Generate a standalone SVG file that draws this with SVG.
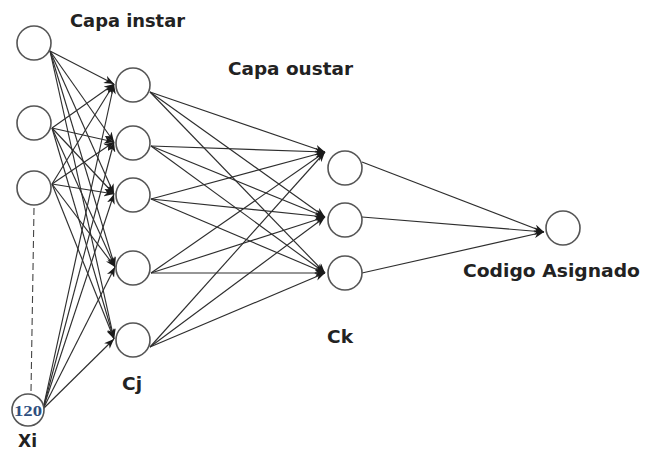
<svg xmlns="http://www.w3.org/2000/svg" width="650" height="451" viewBox="0 0 650 451">
  <style>
    .node { fill: #ffffff; stroke: #555555; stroke-width: 1.6; }
    .link { stroke: #2e2e2e; stroke-width: 1.15; fill: none; marker-end: url(#arrow); }
    .plain { stroke: #444444; stroke-width: 1.1; fill: none; }
    .lbl { font-family: "DejaVu Sans", "Liberation Sans", sans-serif; font-weight: bold; font-size: 17px; fill: #222222; }
    .num { font-family: "Liberation Serif", serif; font-weight: bold; font-size: 14px; fill: #2f4f7f; }
  </style>
  <defs>
    <marker id="arrow" viewBox="0 0 10 8" refX="10" refY="4" markerWidth="10" markerHeight="8" markerUnits="userSpaceOnUse" orient="auto">
      <path d="M0,0 L10,4 L0,8 L3,4 z" fill="#1a1a1a"/>
    </marker>
  </defs>
  <rect width="650" height="451" fill="#ffffff"/>

  <!-- connectors -->
  <g id="connectors">
    <!-- input layer to instar layer -->
    <g id="x-to-cj">
      <line class="link" x1="50" y1="51" x2="114" y2="84"/>
      <line class="link" x1="50" y1="51" x2="114" y2="142"/>
      <line class="link" x1="50" y1="51" x2="114" y2="194"/>
      <line class="link" x1="50" y1="51" x2="115" y2="267"/>
      <line class="link" x1="50" y1="51" x2="114" y2="339"/>

      <line class="link" x1="52" y1="128" x2="114" y2="84"/>
      <line class="link" x1="52" y1="128" x2="114" y2="142"/>
      <line class="link" x1="52" y1="128" x2="114" y2="194"/>
      <line class="link" x1="52" y1="128" x2="115" y2="267"/>
      <line class="link" x1="52" y1="128" x2="114" y2="339"/>

      <line class="link" x1="52" y1="184" x2="114" y2="84"/>
      <line class="link" x1="52" y1="184" x2="114" y2="142"/>
      <line class="link" x1="52" y1="184" x2="114" y2="194"/>
      <line class="link" x1="52" y1="184" x2="115" y2="267"/>
      <line class="link" x1="52" y1="184" x2="114" y2="339"/>

      <line class="link" x1="43" y1="409" x2="114" y2="84"/>
      <line class="link" x1="43" y1="409" x2="114" y2="142"/>
      <line class="link" x1="43" y1="409" x2="114" y2="194"/>
      <line class="link" x1="43" y1="409" x2="115" y2="267"/>
      <line class="link" x1="43" y1="409" x2="114" y2="339"/>
    </g>

    <!-- instar layer to outstar layer -->
    <g id="cj-to-ck">
      <line class="link" x1="150" y1="92" x2="325" y2="152"/>
      <line class="link" x1="150" y1="92" x2="325" y2="217"/>
      <line class="link" x1="150" y1="92" x2="325" y2="273"/>

      <line class="link" x1="151" y1="146" x2="325" y2="152"/>
      <line class="link" x1="151" y1="146" x2="325" y2="217"/>
      <line class="link" x1="151" y1="146" x2="325" y2="273"/>

      <line class="link" x1="151" y1="199" x2="325" y2="152"/>
      <line class="link" x1="151" y1="199" x2="325" y2="217"/>
      <line class="link" x1="151" y1="199" x2="325" y2="273"/>

      <line class="link" x1="151" y1="273" x2="325" y2="152"/>
      <line class="link" x1="151" y1="273" x2="325" y2="217"/>
      <line class="link" x1="151" y1="273" x2="325" y2="273"/>

      <line class="link" x1="150" y1="347" x2="325" y2="152"/>
      <line class="link" x1="150" y1="347" x2="325" y2="217"/>
      <line class="link" x1="150" y1="347" x2="325" y2="273"/>
    </g>

    <!-- outstar layer to assigned code -->
    <g id="ck-to-out">
      <line class="link" x1="362" y1="162" x2="544" y2="232"/>
      <line class="link" x1="362" y1="217" x2="544" y2="232"/>
      <line class="link" x1="362" y1="273" x2="544" y2="232"/>
    </g>

    <!-- elided inputs between the third input and input 120 -->
    <line id="elision" class="plain" x1="34" y1="208" x2="31" y2="392" stroke-dasharray="7,4"/>
  </g>

  <!-- input layer -->
  <g id="x1"><circle class="node" cx="34" cy="43" r="17"/></g>
  <g id="x2"><circle class="node" cx="34" cy="123" r="17"/></g>
  <g id="x3"><circle class="node" cx="34" cy="188" r="17"/></g>
  <g id="x120">
    <circle class="node" cx="28" cy="410" r="16"/>
    <text class="num" x="28" y="416" text-anchor="middle" textLength="28" lengthAdjust="spacingAndGlyphs">120</text>
  </g>

  <!-- instar layer -->
  <g id="cj1"><circle class="node" cx="133" cy="85" r="17"/></g>
  <g id="cj2"><circle class="node" cx="133" cy="143" r="17"/></g>
  <g id="cj3"><circle class="node" cx="133" cy="195" r="17"/></g>
  <g id="cj4"><circle class="node" cx="133" cy="268" r="17"/></g>
  <g id="cj5"><circle class="node" cx="133" cy="340" r="17"/></g>

  <!-- outstar layer -->
  <g id="ck1"><circle class="node" cx="345" cy="168" r="17"/></g>
  <g id="ck2"><circle class="node" cx="345" cy="220" r="17"/></g>
  <g id="ck3"><circle class="node" cx="345" cy="273" r="17"/></g>

  <!-- output -->
  <g id="out"><circle class="node" cx="563" cy="228" r="17"/></g>

  <!-- labels -->
  <g id="labels">
    <text class="lbl" x="70" y="27" textLength="115" lengthAdjust="spacingAndGlyphs">Capa instar</text>
    <text class="lbl" x="228" y="75" textLength="125" lengthAdjust="spacingAndGlyphs">Capa oustar</text>
    <text class="lbl" x="463" y="277" textLength="177" lengthAdjust="spacingAndGlyphs">Codigo Asignado</text>
    <text class="lbl" x="327" y="343" textLength="26" lengthAdjust="spacingAndGlyphs">Ck</text>
    <text class="lbl" x="122" y="390" textLength="20" lengthAdjust="spacingAndGlyphs">Cj</text>
    <text class="lbl" x="18" y="447" textLength="19" lengthAdjust="spacingAndGlyphs">Xi</text>
  </g>
</svg>
